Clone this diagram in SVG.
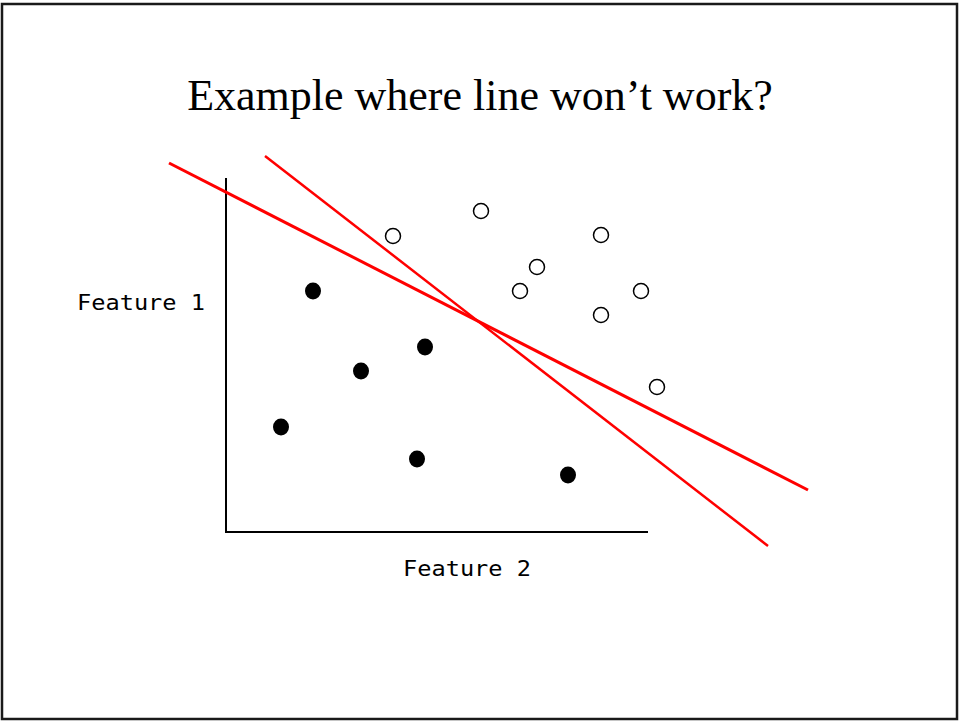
<svg xmlns="http://www.w3.org/2000/svg" width="959" height="721" viewBox="0 0 959 721">
<style>
.title{font-family:"Liberation Serif","Times New Roman",serif;font-size:44px;fill:#000}
.lab{font-family:"DejaVu Sans Mono","Liberation Mono",monospace;font-size:21px;fill:#000}
.axis{stroke:#000;stroke-width:2;fill:none}
.sep{stroke:#ff0000;fill:none;stroke-linecap:butt}
.pos{fill:#000}
.neg{fill:#fff;stroke:#000;stroke-width:1.5}
</style>
<rect x="0" y="0" width="959" height="721" fill="#fff"/>
<rect x="2" y="4" width="955" height="715" fill="none" stroke="#1a1a1a" stroke-width="2.5"/>
<text class="title" x="480" y="110" text-anchor="middle">Example where line won’t work?</text>
<g id="axes">
<line class="axis" x1="226" y1="178" x2="226" y2="533"/>
<line class="axis" x1="225" y1="532" x2="648" y2="532"/>
</g>
<text class="lab" x="77" y="310" textLength="128" lengthAdjust="spacingAndGlyphs">Feature 1</text>
<text class="lab" x="403" y="576" textLength="128" lengthAdjust="spacingAndGlyphs">Feature 2</text>
<g id="connectors">
<line class="sep" x1="169" y1="163" x2="808" y2="490" stroke-width="3"/>
<line class="sep" x1="265" y1="156" x2="768" y2="546" stroke-width="2.5"/>
</g>
<g id="filled">
<ellipse class="pos" cx="313" cy="291" rx="8" ry="8.5"/>
<ellipse class="pos" cx="425" cy="347" rx="8" ry="8.5"/>
<ellipse class="pos" cx="361" cy="371" rx="8" ry="8.5"/>
<ellipse class="pos" cx="281" cy="427" rx="8" ry="8.5"/>
<ellipse class="pos" cx="417" cy="459" rx="8" ry="8.5"/>
<ellipse class="pos" cx="568" cy="475" rx="8" ry="8.5"/>
</g>
<g id="open">
<circle class="neg" cx="393" cy="236" r="7.5"/>
<circle class="neg" cx="481" cy="211" r="7.5"/>
<circle class="neg" cx="601" cy="235" r="7.5"/>
<circle class="neg" cx="537" cy="267" r="7.5"/>
<circle class="neg" cx="520" cy="291" r="7.5"/>
<circle class="neg" cx="641" cy="291" r="7.5"/>
<circle class="neg" cx="601" cy="315" r="7.5"/>
<circle class="neg" cx="657" cy="387" r="7.5"/>
</g>
</svg>
